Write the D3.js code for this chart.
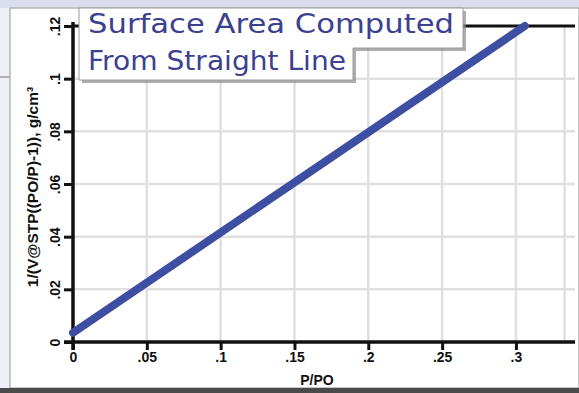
<script src="https://d3js.org/d3.v7.min.js"></script>
<style>
  body { margin: 0; background: #eef0f6; }
  svg { display: block; }
</style>
<div class="vis"></div>
<script>
  const width = 579, height = 393;

  // data
  const pressure = [0, 0.306];          // P/PO
  const invVolume = [0.0035, 0.12];     // 1/(V@STP((PO/P)-1))
  const xTicks = [0, 0.05, 0.1, 0.15, 0.2, 0.25, 0.3];
  const xTickLabels = ["0", ".05", ".1", ".15", ".2", ".25", ".3"];
  const yTicks = [0, 0.02, 0.04, 0.06, 0.08, 0.1, 0.12];
  const yTickLabels = ["0", ".02", ".04", ".06", ".08", ".1", ".12"];
  const xGrid = [0.05, 0.1, 0.15, 0.2, 0.25, 0.3, 0.333];
  const yGrid = [0.02, 0.04, 0.06, 0.08, 0.1];
  const titleLines = ["Surface Area Computed", "From Straight Line"];
  const titleWidths = [366, 258];

  const points = pressure.map((p, i) => ({x: p, y: invVolume[i]}));

  const svg = d3.select('.vis').append('svg')
    .attr("width", width).attr("height", height);

  // slide background
  svg.append("rect").attr("width", width).attr("height", 8).attr("fill", "#d9ddee");
  svg.append("rect").attr("y", 8).attr("width", 10).attr("height", height - 8).attr("fill", "#eef0f6");
  svg.append("line").attr("x1", 0).attr("x2", 10).attr("y1", 77).attr("y2", 77)
    .attr("stroke", "#9a9a9a").attr("stroke-width", 1.5);
  // white panel
  svg.append("rect").attr("x", 10).attr("y", 8).attr("width", width - 10).attr("height", 380)
    .attr("fill", "#ffffff").attr("stroke", "#b5b5b5").attr("stroke-width", 1.5);
  svg.append("rect").attr("x", 0).attr("y", 388).attr("width", width).attr("height", 5).attr("fill", "#4a4a4a");

  const x = d3.scaleLinear().domain([0, 0.34]).range([73, 575]);
  const y = d3.scaleLinear().domain([0, 0.12]).range([342, 26]);

  // grid
  svg.append("g").selectAll("line").data(xGrid).join("line")
    .attr("x1", d => x(d)).attr("x2", d => x(d))
    .attr("y1", y(0.12)).attr("y2", y(0))
    .attr("stroke", "#e0e0e0").attr("stroke-width", 2.5);
  svg.append("g").selectAll("line").data(yGrid).join("line")
    .attr("x1", x(0)).attr("x2", x(0.34))
    .attr("y1", d => y(d)).attr("y2", d => y(d))
    .attr("stroke", "#e0e0e0").attr("stroke-width", 2.5);

  // top frame line
  svg.append("line").attr("x1", x(0)).attr("x2", x(0.34))
    .attr("y1", y(0.12)).attr("y2", y(0.12))
    .attr("stroke", "#111").attr("stroke-width", 3);

  // axes
  const xAxis = svg.append("g").attr("transform", `translate(0,${y(0)})`)
    .call(d3.axisBottom(x).tickValues(xTicks).tickFormat((d, i) => xTickLabels[i]).tickSize(8).tickPadding(2));
  const yAxis = svg.append("g").attr("transform", `translate(${x(0)},0)`)
    .call(d3.axisLeft(y).tickValues(yTicks).tickFormat((d, i) => yTickLabels[i]).tickSize(9).tickPadding(2));

  [xAxis, yAxis].forEach(a => {
    a.select(".domain").attr("stroke", "#111").attr("stroke-width", 3.5);
    a.selectAll(".tick line").attr("stroke", "#111").attr("stroke-width", 3);
    a.selectAll("text").attr("fill", "#111")
      .style("font-family", "Liberation Sans, Arial, sans-serif")
      .style("font-weight", "bold").style("font-size", "14px");
  });
  xAxis.select(".domain").attr("d", `M${x(0) - 9},0H${x(0.34)}`);
  yAxis.select(".domain").attr("d", `M0,${y(0) + 8}V${y(0.12) - 4}`);
  yAxis.selectAll(".tick text")
    .attr("transform", "rotate(-90)")
    .attr("x", 0).attr("y", -13)
    .attr("dy", "0")
    .attr("text-anchor", "middle")
    .attr("dominant-baseline", "auto");

  // axis titles
  svg.append("text").attr("x", x(0.17) - 7).attr("y", 385)
    .attr("text-anchor", "middle").attr("fill", "#111")
    .style("font-family", "Liberation Sans, Arial, sans-serif")
    .style("font-weight", "bold").style("font-size", "14px")
    .text("P/PO");
  svg.append("text").attr("transform", "translate(38,187) rotate(-90)")
    .attr("text-anchor", "middle").attr("fill", "#111")
    .style("font-family", "Liberation Sans, Arial, sans-serif")
    .style("font-weight", "bold").style("font-size", "15.5px")
    .text("1/(V@STP((PO/P)-1)), g/cm³");

  // data line
  svg.append("path").datum(points)
    .attr("d", d3.line().x(d => x(d.x)).y(d => y(d.y)))
    .attr("fill", "none").attr("stroke", "#3e4ea3")
    .attr("stroke-width", 8).attr("stroke-linecap", "round");

  // title box
  const title = svg.append("g");
  title.append("path")
    .attr("d", "M82,11H466V51H356V83H82Z")
    .attr("fill", "#8a8a8a").attr("opacity", 0.7);
  title.append("path")
    .attr("d", "M79,8H463V48H353V80H79Z")
    .attr("fill", "#ffffff").attr("stroke", "#9a9a9a").attr("stroke-width", 1);
  title.selectAll("text").data(titleLines).join("text")
    .attr("x", 88).attr("y", (d, i) => 33 + i * 37)
    .attr("textLength", (d, i) => titleWidths[i])
    .attr("lengthAdjust", "spacingAndGlyphs")
    .attr("fill", "#3b4190")
    .style("font-family", "DejaVu Sans, sans-serif")
    .style("font-size", "26px")
    .text(d => d);
</script>
